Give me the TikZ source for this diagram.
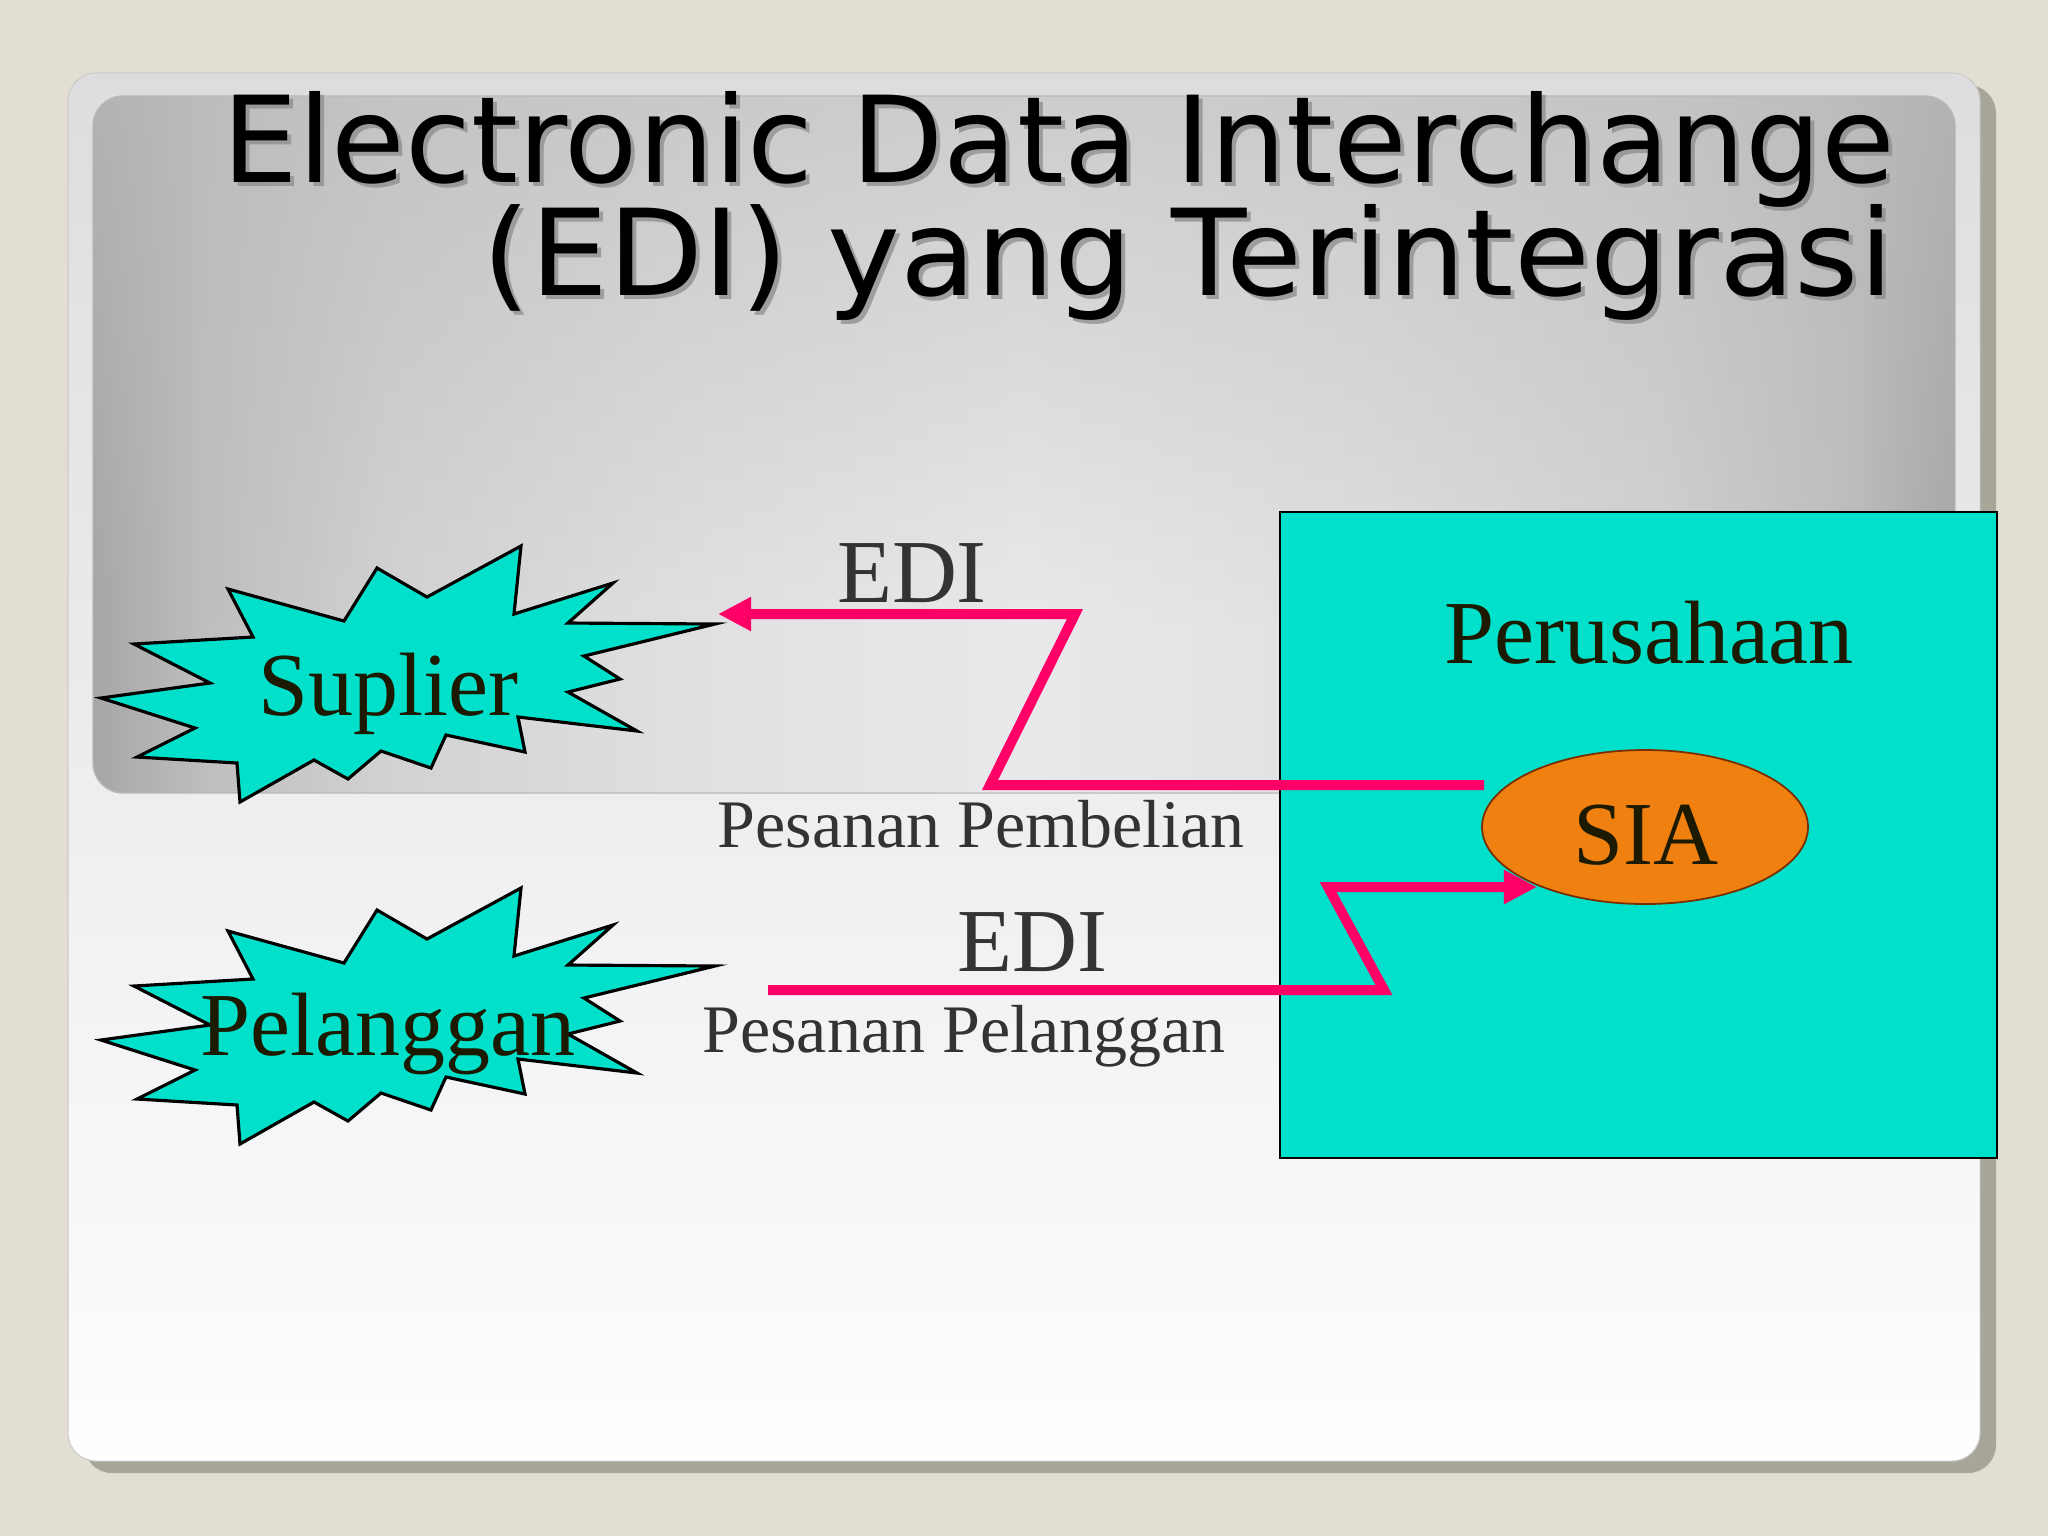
\documentclass[tikz,border=0pt]{standalone}
\usepackage{fontspec}
\setmainfont{Liberation Serif}
\newfontfamily\titlefont{DejaVu Sans}
\usetikzlibrary{shapes.geometric,arrows.meta,fadings}

\definecolor{bgbeige}{HTML}{E2DFD2}
\definecolor{shadowc}{HTML}{A8A698}
\definecolor{paneltop}{HTML}{DDDDE0}
\definecolor{panelmid}{HTML}{EEEEF0}
\definecolor{panelbot}{HTML}{FEFDFF}
\definecolor{glowedge}{HTML}{A6A6A6}
\definecolor{glowb}{HTML}{BEBEBE}
\definecolor{glowc}{HTML}{D2D2D3}
\definecolor{glowd}{HTML}{E0E0E2}
\definecolor{glowmid}{HTML}{E9E9EB}
\definecolor{topveil}{HTML}{BBBBBB}
\definecolor{turq}{HTML}{00E0CA}
\definecolor{siafill}{HTML}{F08010}
\definecolor{siaborder}{HTML}{7A2E00}
\definecolor{edired}{HTML}{FF0066}
\definecolor{darktext}{HTML}{1C1A00}
\definecolor{graytext}{HTML}{333333}
\definecolor{titleshadow}{HTML}{8C8C8C}

% the path spans 25bp..75bp of the shading
\pgfdeclarehorizontalshading{glowshade}{100bp}{color(0bp)=(glowedge); color(25bp)=(glowedge); color(28bp)=(glowb); color(33bp)=(glowc); color(41bp)=(glowd); color(50bp)=(glowmid); color(59bp)=(glowd); color(67bp)=(glowc); color(72bp)=(glowb); color(75bp)=(glowedge); color(100bp)=(glowedge)}
\tikzfading[name=veilfade, top color=transparent!0, bottom color=transparent!100]

\newcommand{\burstpath}{(101,698) -- (210,683) -- (134,644) -- (253,637) -- (228,589) -- (344,621) -- (377,568) -- (427,597) -- (521,546) -- (514,614) -- (613,583) -- (568,623) -- (715,624) -- (584,656) -- (620,679) -- (568,692) -- (637,731) -- (518,717) -- (525,752) -- (446,735) -- (431,768) -- (381,751) -- (348,779) -- (314,760) -- (240,802) -- (237,763) -- (137,757) -- (195,728) -- cycle}

\tikzset{
  titletext/.style={anchor=base east, inner sep=0pt, font=\titlefont\fontsize{34.1pt}{40pt}\selectfont},
  bigserif/.style={anchor=base, inner sep=0pt, font=\fontsize{25.6pt}{30pt}\selectfont},
  smallserif/.style={anchor=base, inner sep=0pt, font=\fontsize{19.35pt}{23pt}\selectfont, text=graytext},
  burst/.style={fill=turq, draw=black, line width=0.9pt, line join=miter},
  ediarrow/.style={draw=edired, line width=1mm, line join=miter, line cap=butt, -{Triangle[length=9.4pt,width=9.1pt]}}
}

\begin{document}
\begin{tikzpicture}[x=0.1mm, y=-0.1mm]
\useasboundingbox (0,0) rectangle (2048,1536);
\fill[bgbeige] (0,0) rectangle (2048,1536);

% slide panel
\fill[shadowc, rounded corners=2.8mm] (84,85) rectangle (1996,1473);
\fill[top color=paneltop, middle color=panelmid, bottom color=panelbot, rounded corners=2.8mm] (68,73) rectangle (1980,1461);
\draw[gray!40, line width=0.3pt, rounded corners=2.8mm] (68,73) rectangle (1980,1461);

% gray glow box
\begin{scope}
  \clip[rounded corners=3mm] (93,96) rectangle (1955,793);
  \fill[shading=glowshade] (93,96) rectangle (1955,793);
  \fill[topveil, fill opacity=0.6, path fading=veilfade] (93,96) rectangle (1955,620);
\end{scope}
\draw[gray!55, line width=0.4pt, rounded corners=3mm] (93,96) rectangle (1955,793);

% title with shadow
\node[titletext, text=titleshadow, opacity=0.75] at (1900,186) {Electronic Data Interchange};
\node[titletext, text=titleshadow, opacity=0.75] at (1898,299) {\scalebox{1.03}[1]{(EDI) yang Terintegrasi}};
\node (title1) [titletext, text=black] at (1896,182) {Electronic Data Interchange};
\node (title2) [titletext, text=black] at (1894,295) {\scalebox{1.03}[1]{(EDI) yang Terintegrasi}};

% starbursts
\path[burst] \burstpath;
\node (sup) [bigserif, text=darktext] at (388,715) {Suplier};
\begin{scope}[shift={(0,342)}]
  \path[burst] \burstpath;
\end{scope}
\node (pel) [bigserif, text=darktext] at (388,1055) {Pelanggan};

% company box
\node (per) [draw=black, fill=turq, line width=0.8pt, minimum width=71.7mm, minimum height=64.6mm, inner sep=0pt] at (1638.5,835) {};
\node (perlabel) [bigserif, text=darktext] at (1649,663) {Perusahaan};
\node (sia) [ellipse, draw=siaborder, fill=siafill, line width=0.5pt, minimum width=32.6mm, minimum height=15.4mm, inner sep=0pt] at (1645,827) {};
\node (sialabel) [bigserif, text=darktext] at (1646,864) {SIA};

% connectors
\coordinate (a1) at (1484,785);
\coordinate (a2) at (990,785);
\coordinate (a3) at (1075,614);
\coordinate (a4) at (718,614);
\draw[ediarrow] (a1) -- (a2) -- (a3) -- (a4);

\coordinate (b1) at (768,990);
\coordinate (b2) at (1384,990);
\coordinate (b3) at (1328,887);
\coordinate (b4) at (1537,887);
\draw[ediarrow] (b1) -- (b2) -- (b3) -- (b4);

% labels
\node (edi1) [bigserif, text=graytext] at (912,602) {EDI};
\node (edi2) [bigserif, text=graytext] at (1032,971) {EDI};
\node (pp1) [smallserif] at (981,847) {Pesanan Pembelian};
\node (pp2) [smallserif] at (964,1052) {Pesanan Pelanggan};
\end{tikzpicture}
\end{document}
